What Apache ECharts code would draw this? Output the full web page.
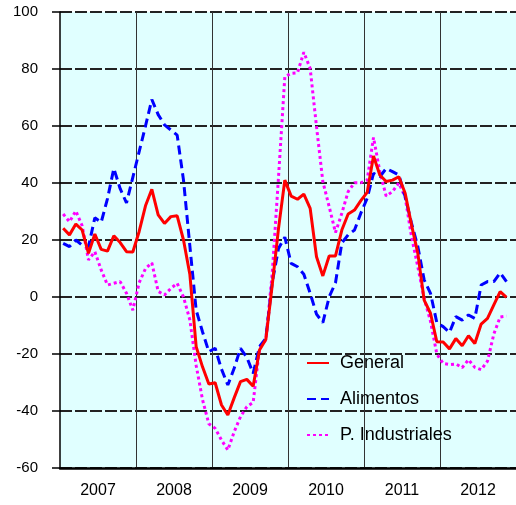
<!DOCTYPE html>
<html>
<head>
<meta charset="utf-8">
<script src="https://cdn.jsdelivr.net/npm/echarts@6/dist/echarts.min.js"></script>
<style>
  html, body { margin: 0; padding: 0; background: #fff; }
  #chart { width: 516px; height: 505px; }
</style>
</head>
<body>
<div id="chart"></div>
<script>
// year labels on the bottom axis
const years = ['2007', '2008', '2009', '2010', '2011', '2012']
// month categories, Jan 2007 .. Dec 2012
const months = []
years.forEach(y => { for (let m = 1; m <= 12; m++) months.push(y + '-' + (m < 10 ? '0' + m : m)) })

// monthly values, Jan 2007 .. Nov 2012
const general = [
  24.1, 21.8, 25.6, 23.5, 15.3, 22.1, 16.7, 16.1, 21.5, 19.1, 15.9, 15.8,
  23, 32, 37.8, 28.8, 25.8, 28.2, 28.5, 20, 8, -17.4, -24.5, -30.5,
  -30.1, -37.9, -41.4, -35.4, -29.7, -28.9, -31.3, -18.6, -14.9, 4, 24, 41,
  35.4, 34.3, 36.1, 31.1, 14.1, 7.4, 14.4, 14.4, 23.5, 29.1, 30.5, 33.8,
  36.7, 49.5, 42.8, 40.5, 41, 42.2, 36.4, 25.3, 15.3, -1.1, -5.7, -15.7,
  -15.8, -18.2, -14.6, -17.1, -13.6, -16.3, -9.5, -7.5, -2.8, 1.9, -0.1
]
const alimentos = [
  18.8, 17.7, 20, 18.2, 17.7, 27.8, 26.2, 34.5, 45.1, 38, 33, 42,
  51, 60, 69.3, 64, 60.4, 58.6, 56.8, 41, 18, -4.6, -12.2, -19.2,
  -18, -25.3, -30.9, -25, -18, -21.2, -26.8, -17.4, -14.5, 5, 17, 21,
  11.8, 10.6, 8, 1.3, -6, -9, 0, 5, 19, 21.8, 23.5, 29.4,
  34.6, 43.4, 42.2, 45.1, 44, 42.8, 35.2, 25.9, 17.7, 6, 1.3, -9,
  -10.4, -12.4, -6.9, -8.1, -6.3, -7.5, 4.2, 5.4, 5.4, 8.5, 5.4
]
const industriales = [
  29.1, 26.4, 30.2, 25, 13, 15.9, 9.5, 4.2, 4.8, 5.4, 1.3, -4.6,
  5, 10, 12, 2, 0.7, 3, 4.8, 0, -8, -24, -36, -44.5,
  -46.1, -50.2, -53.7, -47.3, -42, -38.5, -37, -18, -15, 8, 42, 77.3,
  78.5, 78.7, 85.9, 80.2, 59.8, 40.5, 31.7, 22.6, 29.4, 37, 40.1, 40.1,
  41, 56, 44, 35.4, 37, 40, 35, 21.2, 10.6, -0.5, -8.5, -20,
  -23.3, -23.7, -23.5, -24.8, -22, -24.7, -25.5, -22.5, -13, -7, -6.7
]

const font = 'Liberation Sans, Arial, sans-serif'

const chart = echarts.init(document.getElementById('chart'))
chart.setOption({
  animation: false,
  grid: {
    left: 60, right: -2, top: 12, bottom: 37,
    show: true, backgroundColor: '#e0ffff', borderWidth: 0
  },
  legend: {
    orient: 'vertical',
    left: 301, top: 348,
    itemWidth: 22, itemHeight: 14, itemGap: 16,
    itemStyle: { opacity: 0 },
    textStyle: { fontFamily: font, fontSize: 18, color: '#000', lineHeight: 20, padding: [0, 0, 0, 6] },
    data: ['General', 'Alimentos', 'P. Industriales']
  },
  xAxis: [{
    type: 'category',
    data: months,
    boundaryGap: true,
    axisLine: { onZero: false, lineStyle: { color: '#000', width: 2.5 } },
    axisTick: { show: false },
    axisLabel: { show: false },
    splitLine: {
      show: true,
      interval: (i) => i % 12 === 0 && i > 0,
      lineStyle: { color: '#333', width: 1 }
    }
  }, {
    type: 'category',
    data: years,
    position: 'bottom',
    boundaryGap: true,
    axisLine: { show: false },
    axisTick: { show: false },
    splitLine: { show: false },
    axisLabel: { fontFamily: font, fontSize: 16, color: '#000', margin: 15 }
  }],
  yAxis: {
    type: 'value',
    min: -60, max: 100, interval: 20,
    axisLine: { show: true, lineStyle: { color: '#000', width: 1.5 } },
    axisTick: { show: true, length: 8, lineStyle: { color: '#000', width: 1.5 } },
    axisLabel: { fontFamily: font, fontSize: 15, color: '#000', margin: 22 },
    splitLine: { show: true, lineStyle: { color: '#222', width: 2, type: [12, 3] } }
  },
  series: [{
    name: 'General',
    type: 'line',
    data: general,
    symbol: 'none',
    z: 4,
    lineStyle: { color: '#ff0000', width: 3 },
    itemStyle: { color: '#ff0000' }
  }, {
    name: 'Alimentos',
    type: 'line',
    data: alimentos,
    symbol: 'none',
    z: 3,
    lineStyle: { color: '#0000ff', width: 3, type: [9, 5] },
    itemStyle: { color: '#0000ff' }
  }, {
    name: 'P. Industriales',
    type: 'line',
    data: industriales,
    symbol: 'none',
    z: 2,
    lineStyle: { color: '#ff00ff', width: 3, type: [3, 3] },
    itemStyle: { color: '#ff00ff' }
  }]
})
</script>
</body>
</html>
